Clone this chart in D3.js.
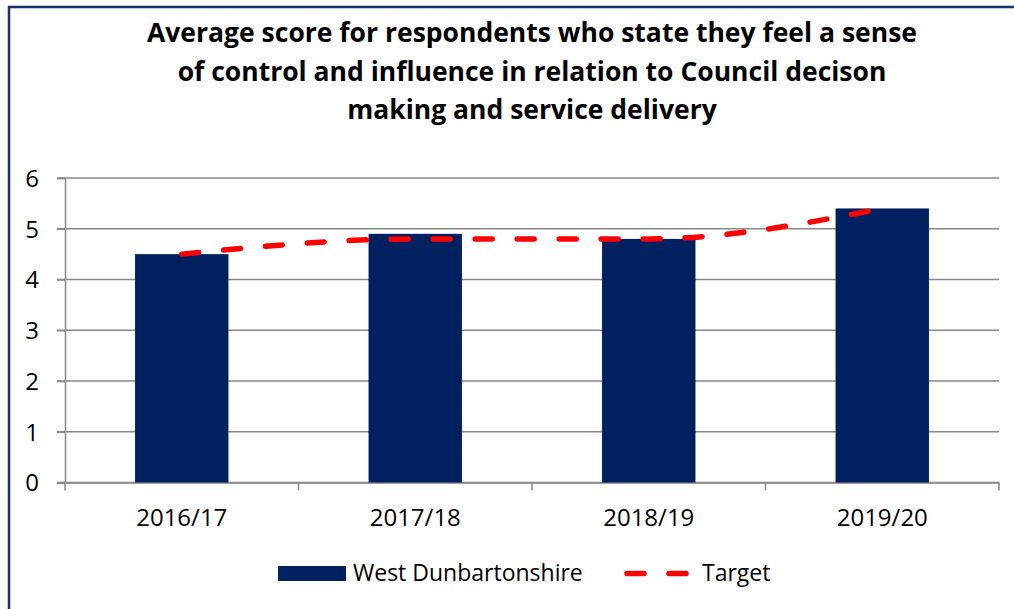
<!DOCTYPE html>
<html>

<head>
    <script src="https://d3js.org/d3.v7.min.js"></script>
    <meta charset="utf-8" />
    <title>Sense of control and influence</title>
    <style>
        body { margin: 0; background: #fff; }
        text { font-family: "Open Sans", sans-serif; fill: #000; }
    </style>
</head>

<body>
    <div id="chart"></div>

    <script>
        // data
        const categories = ["2016/17", "2017/18", "2018/19", "2019/20"];
        const westDunbartonshire = [4.5, 4.9, 4.8, 5.4];
        const target = [4.5, 4.8, 4.8, 5.4];
        const yTicks = [0, 1, 2, 3, 4, 5, 6];
        const titleLines = [
            "Average score for respondents who state they feel a sense",
            "of control and influence in relation to Council decison",
            "making and service delivery"
        ];
        const seriesNames = ["West Dunbartonshire", "Target"];

        const svgWidth = 1014;
        const svgHeight = 609;
        const margin = { top: 178, right: 15, bottom: 126.5, left: 65 };
        const chartWidth = svgWidth - margin.left - margin.right;
        const chartHeight = svgHeight - margin.top - margin.bottom;

        const barColor = "#002060";
        const gridColor = "#898989";

        var svg = d3.select("#chart")
            .append("svg")
            .attr("width", svgWidth)
            .attr("height", svgHeight);

        // outer frame (top + left edge visible)
        svg.append("path")
            .attr("d", "M9,609 L9,7 L1014,7")
            .attr("fill", "none")
            .attr("stroke", "#1a336f")
            .attr("stroke-width", 2.5);

        // title
        svg.append("text")
            .attr("x", 532)
            .attr("y", 42)
            .attr("text-anchor", "middle")
            .style("font-weight", "bold")
            .style("font-size", "26.5px")
            .selectAll("tspan")
            .data(titleLines)
            .enter().append("tspan")
            .attr("x", 532)
            .attr("dy", (d, i) => i === 0 ? 0 : 38.5)
            .text(d => d);

        const chart = svg.append("g")
            .attr("transform", `translate(${margin.left}, ${margin.top})`);

        // scales
        const xScale = d3.scaleBand()
            .domain(categories)
            .range([0, chartWidth])
            .padding(0);

        const yScale = d3.scaleLinear()
            .domain([0, 6])
            .range([chartHeight, 0]);

        // gridlines
        chart.append("g")
            .selectAll("line")
            .data(yTicks)
            .enter().append("line")
            .attr("x1", -8)
            .attr("x2", chartWidth)
            .attr("y1", d => yScale(d))
            .attr("y2", d => yScale(d))
            .attr("stroke", gridColor)
            .attr("stroke-width", 1.5);

        // y axis
        const yAxis = d3.axisLeft(yScale)
            .tickValues(yTicks)
            .tickFormat(d3.format("d"))
            .tickSize(8)
            .tickPadding(18);
        const yG = chart.append("g").call(yAxis);
        yG.select(".domain").attr("stroke", gridColor).attr("stroke-width", 1.5);
        yG.selectAll(".tick line").attr("stroke", gridColor).attr("stroke-width", 1.5);
        yG.selectAll("text").style("font-size", "24px").attr("dy", "0.35em");

        // x axis
        const xG = chart.append("g")
            .attr("transform", `translate(0, ${chartHeight})`)
            .call(d3.axisBottom(xScale).tickSize(0).tickPadding(26));
        xG.select(".domain").attr("stroke", gridColor).attr("stroke-width", 1.5);
        xG.selectAll("text").style("font-size", "24px");
        xG.selectAll(".sep")
            .data(categories.concat(["end"]))
            .enter().append("line")
            .attr("class", "sep")
            .attr("x1", (d, i) => i * xScale.step())
            .attr("x2", (d, i) => i * xScale.step())
            .attr("y1", 0)
            .attr("y2", 8)
            .attr("stroke", gridColor)
            .attr("stroke-width", 1.5);

        // bars
        const barWidth = xScale.bandwidth() * 0.4;
        chart.selectAll(".bar")
            .data(westDunbartonshire)
            .enter().append("rect")
            .attr("class", "bar")
            .attr("x", (d, i) => xScale(categories[i]) + (xScale.bandwidth() - barWidth) / 2)
            .attr("y", d => yScale(d))
            .attr("width", barWidth)
            .attr("height", d => chartHeight - yScale(d))
            .attr("fill", barColor);

        // target line (smoothed)
        const line = d3.line()
            .x((d, i) => xScale(categories[i]) + xScale.bandwidth() / 2)
            .y(d => yScale(d))
            .curve(d3.curveMonotoneX);

        chart.append("path")
            .datum(target)
            .attr("d", line)
            .attr("fill", "none")
            .attr("stroke", "#ff0000")
            .attr("stroke-width", 5.5)
            .attr("stroke-linecap", "round")
            .attr("stroke-dasharray", "17,25");

        // legend
        const legend = svg.append("g");
        legend.append("rect")
            .attr("x", 278)
            .attr("y", 566)
            .attr("width", 68)
            .attr("height", 15)
            .attr("fill", barColor);
        legend.append("text")
            .attr("x", 353)
            .attr("y", 581)
            .style("font-size", "23px")
            .text(seriesNames[0]);
        legend.append("line")
            .attr("x1", 627)
            .attr("x2", 687)
            .attr("y1", 573.5)
            .attr("y2", 573.5)
            .attr("stroke", "#ff0000")
            .attr("stroke-width", 5.5)
            .attr("stroke-linecap", "round")
            .attr("stroke-dasharray", "17,25");
        legend.append("text")
            .attr("x", 702)
            .attr("y", 581)
            .style("font-size", "23px")
            .text(seriesNames[1]);
    </script>
</body>

</html>
